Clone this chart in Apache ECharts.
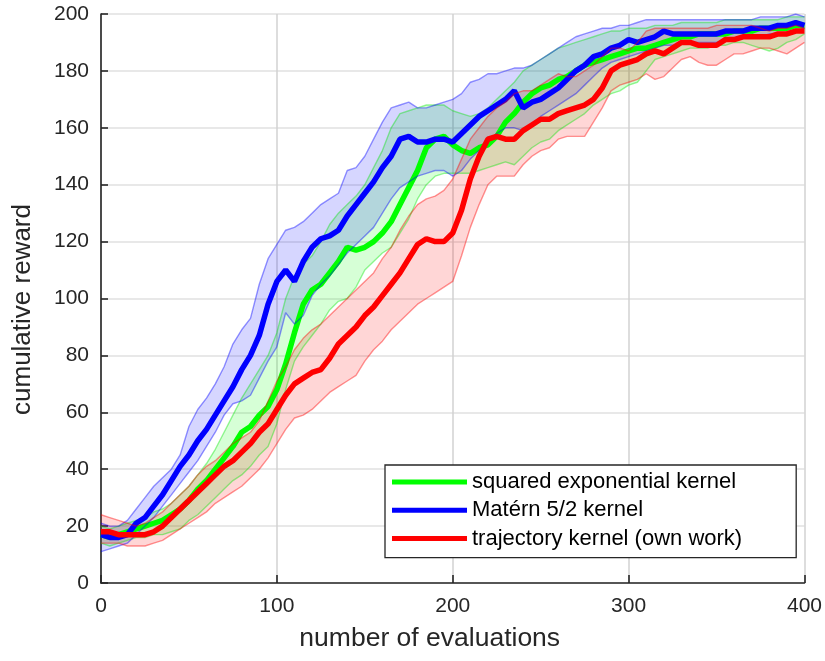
<!DOCTYPE html>
<html>
<head>
<meta charset="utf-8">
<script src="https://cdn.jsdelivr.net/npm/echarts@6/dist/echarts.min.js"></script>
<style>
html,body{margin:0;padding:0;background:#fff;}
#chart{width:825px;height:661px;}
</style>
</head>
<body>
<div id="chart"></div>
<script>
// evaluation positions
var evals = [0,5,10,15,20,25,30,35,40,45,50,55,60,65,70,75,80,85,90,95,100,105,110,115,120,125,130,135,140,145,150,155,160,165,170,175,180,185,190,195,200,205,210,215,220,225,230,235,240,245,250,255,260,265,270,275,280,285,290,295,300,305,310,315,320,325,330,335,340,345,350,355,360,365,370,375,380,385,390,395,400];

var seriesNames = ['squared exponential kernel', 'Matérn 5/2 kernel', 'trajectory kernel (own work)'];

// squared exponential kernel
var greenMean = [17,16,17,18,19,20,21,22,24,26,29,33,36,40,44,48,53,55,59,62,68,77,88,98,103,105,109,113,118,117,118,120,123,127,133,139,145,153,156,157,154,152,151,153,154,157,162,165,169,172,174,175,177,178,180,182,183,184,185,186,187,188,188,189,190,191,192,192,193,193,193,193,194,194,194,195,195,195,195,196,196];
var greenUp = [20,19,20,21,22,23,25,26,28,31,34,38,42,47,53,59,65,70,75,80,88,100,108,112,115,120,126,130,133,136,140,146,152,160,165,166,167,168,168,168,166,165,164,165,167,170,173,176,180,182,184,186,188,189,190,191,192,193,194,194,195,195,195,196,196,196,197,197,197,197,197,198,198,198,198,198,198,198,199,199,199];
var greenLo = [14,13,14,15,16,16,17,17,18,19,22,24,27,30,33,36,38,41,45,48,56,68,78,83,87,91,96,99,100,104,110,113,116,118,123,128,135,140,143,144,144,144,144,145,146,147,148,147,150,153,155,156,159,161,163,165,168,170,172,173,175,176,180,184,185,186,187,188,188,188,189,189,190,190,189,188,187,188,190,191,193];

// Matérn 5/2 kernel
var blueMean = [17,16,16,17,21,23,27,31,36,41,45,50,54,59,64,69,75,80,87,98,106,110,106,113,118,121,122,124,129,133,137,141,146,150,156,157,155,155,156,156,155,158,161,164,166,168,170,173,167,169,170,172,174,177,180,182,185,186,188,189,191,190,191,192,194,193,193,193,193,193,193,194,194,194,195,195,195,196,196,197,196];
var blueUp = [21,20,20,22,26,30,34,37,40,45,55,61,65,70,76,84,89,93,105,114,119,124,125,127,130,133,135,137,145,146,150,156,162,167,168,169,167,167,168,169,170,172,176,177,179,179,180,181,181,182,184,186,188,190,192,193,194,195,195,196,196,197,198,198,198,198,198,198,198,198,198,198,198,198,198,199,199,199,199,200,199];
var blueLo = [11,12,13,14,17,20,23,27,31,35,39,43,48,53,59,63,64,66,72,78,83,95,91,94,101,105,108,112,116,119,122,125,130,135,139,141,143,144,145,145,143,145,149,152,155,158,160,160,159,161,164,166,168,170,172,175,178,181,183,184,185,186,187,188,189,189,190,190,190,190,190,191,191,192,192,192,193,193,193,194,195];

// trajectory kernel (own work)
var redMean = [18,18,17,17,17,17,18,20,23,26,29,32,35,38,41,43,46,49,53,56,61,66,70,72,74,75,79,84,87,90,94,97,101,105,109,114,119,121,120,120,123,131,142,150,156,157,156,156,159,161,163,163,165,166,167,168,170,174,180,182,183,184,186,187,186,188,190,190,189,189,189,191,191,192,192,192,192,193,193,194,194];
var redUp = [24,23,22,21,20,21,23,25,28,31,34,38,41,43,46,49,51,53,57,64,71,76,82,86,89,91,94,97,100,103,106,109,114,118,124,129,133,135,136,138,142,149,156,160,164,167,169,172,173,173,175,177,179,178,178,180,182,185,188,188,187,190,194,195,195,195,195,195,195,195,196,196,196,196,196,195,194,195,195,196,195];
var redLo = [14,14,14,13,13,13,14,15,17,19,21,23,25,28,30,32,34,37,40,44,49,54,58,59,61,64,67,69,71,73,78,82,85,89,92,95,98,100,102,104,106,115,125,133,140,143,143,143,147,150,152,153,156,157,157,157,162,167,173,175,176,177,179,177,178,181,184,185,183,182,182,184,186,186,187,188,188,187,186,188,190];

var yTicks = [0,20,40,60,80,100,120,140,160,180,200];
var xTicks = [0,100,200,300,400];

function pairs(vals){ return evals.map(function(x,i){ return [x, vals[i]]; }); }
function bandData(up, lo){ return evals.map(function(x,i){ return [x, lo[i], up[i]]; }); }

var groups = [
  {name: seriesNames[0], mean: greenMean, up: greenUp, lo: greenLo, color:'#00ff00', edge:'rgba(0,230,0,0.40)', fill:'rgba(0,255,0,0.16)'},
  {name: seriesNames[1], mean: blueMean, up: blueUp, lo: blueLo, color:'#0000ff', edge:'rgba(0,0,255,0.42)', fill:'rgba(0,0,255,0.16)'},
  {name: seriesNames[2], mean: redMean, up: redUp, lo: redLo, color:'#ff0000', edge:'rgba(255,0,0,0.42)', fill:'rgba(255,0,0,0.16)'}
];

function makeBandRenderer(fill){
  return function(params, api){
    if (params.dataIndex !== 0) return null;
    var data = params.context.bandPts;
    var pts = [];
    var i;
    for (i = 0; i < data.length; i++) pts.push(api.coord([data[i][0], data[i][2]]));
    for (i = data.length - 1; i >= 0; i--) pts.push(api.coord([data[i][0], data[i][1]]));
    return {
      type:'polygon',
      shape:{points:pts},
      style:{fill:fill, stroke:null},
      silent:true
    };
  };
}

var series = [];
groups.forEach(function(g, k){
  var bd = bandData(g.up, g.lo);
  series.push({
    name: g.name, type:'line', data: pairs(g.mean), symbol:'none', showSymbol:false,
    lineStyle:{color:g.color, width:5.5}, itemStyle:{color:g.color}, silent:true
  });
  series.push({
    name:'band'+k, type:'custom', data: bd, clip:true, silent:true,
    encode:{x:0, y:[1,2]},
    renderItem: (function(bdata, fill){
      return function(params, api){
        if (params.dataIndex !== 0) return null;
        var pts = [], i;
        for (i = 0; i < bdata.length; i++) pts.push(api.coord([bdata[i][0], bdata[i][2]]));
        for (i = bdata.length - 1; i >= 0; i--) pts.push(api.coord([bdata[i][0], bdata[i][1]]));
        return {type:'polygon', shape:{points:pts}, style:{fill:fill, stroke:null}, silent:true};
      };
    })(bd, g.fill)
  });
  series.push({
    name:'up'+k, type:'line', data: pairs(g.up), symbol:'none', showSymbol:false,
    lineStyle:{color:g.edge, width:1.4}, silent:true
  });
  series.push({
    name:'lo'+k, type:'line', data: pairs(g.lo), symbol:'none', showSymbol:false,
    lineStyle:{color:g.edge, width:1.4}, silent:true
  });
});

var font = "'Liberation Sans', Arial, Helvetica, sans-serif";
var chart = echarts.init(document.getElementById('chart'), null, {renderer:'canvas'});
chart.setOption({
  animation:false,
  backgroundColor:'#ffffff',
  grid:{left:101, right:20, top:14, bottom:78, containLabel:false},
  xAxis:{
    type:'value', min:0, max:400, interval:100,
    name:'number of evaluations', nameLocation:'middle', nameGap:42,
    nameTextStyle:{fontFamily:font, fontSize:26.5, color:'#262626', padding:[0,46,0,0]},
    axisLine:{show:true, onZero:false, lineStyle:{color:'#262626', width:1.6}},
    axisTick:{show:true, inside:true, length:8, lineStyle:{color:'#262626', width:1.6}},
    axisLabel:{fontFamily:font, fontSize:21, color:'#262626', margin:13,
      formatter:function(v){ return xTicks.indexOf(v)>=0 ? String(v) : ''; }},
    splitLine:{show:true, lineStyle:{color:'#d2d2d2', width:1.5}}
  },
  yAxis:{
    type:'value', min:0, max:200, interval:20,
    name:'cumulative reward', nameLocation:'middle', nameGap:65,
    nameTextStyle:{fontFamily:font, fontSize:26, color:'#262626', padding:[0,22,0,0]},
    axisLine:{show:true, onZero:false, lineStyle:{color:'#262626', width:1.6}},
    axisTick:{show:true, inside:true, length:7, lineStyle:{color:'#262626', width:1.6}},
    axisLabel:{fontFamily:font, fontSize:21, color:'#262626', margin:12,
      formatter:function(v){ return yTicks.indexOf(v)>=0 ? String(v) : ''; }},
    splitLine:{show:true, lineStyle:{color:'#e0e0e0', width:1.5}}
  },
  legend:{
    show:true, orient:'vertical', left:385, top:465,
    data: seriesNames.map(function(n,i){ return {name:n, icon:'rect', itemStyle:{color:groups[i].color, borderWidth:0}}; }),
    itemWidth:75, itemHeight:5, itemGap:6.3,
    padding:[6,54,8,7],
    backgroundColor:'#ffffff', borderColor:'#262626', borderWidth:1.3, borderRadius:0,
    textStyle:{fontFamily:font, fontSize:22, color:'#000', lineHeight:22, padding:[0,0,0,0]},
    selectedMode:false
  },
  series: series
});
</script>
</body>
</html>
